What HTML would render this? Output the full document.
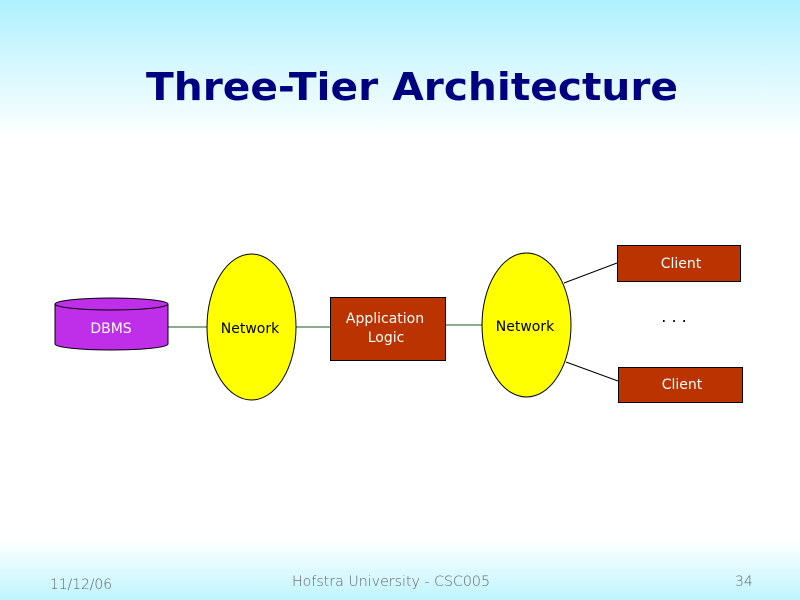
<!DOCTYPE html>
<html><head><meta charset="utf-8"><style>
html,body{margin:0;padding:0;}
body{width:800px;height:600px;overflow:hidden;background:linear-gradient(to bottom,#aef0fd 0px,#d8f8fe 70px,#ffffff 138px,#ffffff 540px,#bff4fe 600px);}
</style></head><body>
<svg width="800" height="600" xmlns="http://www.w3.org/2000/svg" style="position:absolute;left:0;top:0">
<text x="146" y="100" font-family="DejaVu Sans, sans-serif" font-weight="bold" font-size="38" fill="#000080" textLength="532" lengthAdjust="spacingAndGlyphs">Three-Tier Architecture</text>
<g stroke="#1a5a1a" stroke-width="1">
<line x1="168" y1="327" x2="207" y2="327"/>
<line x1="296" y1="327" x2="330" y2="327"/>
<line x1="445" y1="325" x2="482" y2="325"/>
</g>
<g stroke="#000" stroke-width="1">
<line x1="564" y1="283" x2="617" y2="263"/>
<line x1="566" y1="362" x2="618" y2="381"/>
</g>
<path d="M55 304 L55 344 A56.5 6 0 0 0 168 344 L168 304" fill="#bf2ee8" stroke="#000"/>
<ellipse cx="111.5" cy="304" rx="56.5" ry="6" fill="#bf2ee8" stroke="#000"/>
<ellipse cx="251.5" cy="327" rx="44.5" ry="73" fill="#ffff00" stroke="#000"/>
<ellipse cx="526.5" cy="325" rx="44.5" ry="72" fill="#ffff00" stroke="#000"/>
<rect x="330.5" y="297.5" width="115" height="63" fill="#bb3300" stroke="#000"/>
<rect x="617.5" y="245.5" width="123" height="36" fill="#bb3300" stroke="#000"/>
<rect x="618.5" y="367.5" width="124" height="35" fill="#bb3300" stroke="#000"/>
<g font-family="DejaVu Sans, sans-serif" font-size="14" text-anchor="middle">
<text x="111" y="333" fill="#fff">DBMS</text>
<text x="250" y="333" fill="#000">Network</text>
<text x="525" y="331" fill="#000">Network</text>
<text x="385" y="323" fill="#fff">Application</text>
<text x="386" y="342" fill="#fff">Logic</text>
<text x="681" y="268" fill="#fff">Client</text>
<text x="682" y="389" fill="#fff">Client</text>
<text x="674" y="322" fill="#000" font-size="16">. . .</text>
</g>
<g font-family="DejaVu Sans Light, DejaVu Sans, sans-serif" font-weight="300" font-size="14" fill="#666">
<text x="50" y="589" textLength="62" lengthAdjust="spacingAndGlyphs">11/12/06</text>
<text x="292" y="586" textLength="198" lengthAdjust="spacingAndGlyphs">Hofstra University - CSC005</text>
<text x="735" y="586">34</text>
</g>
</svg>
</body></html>
